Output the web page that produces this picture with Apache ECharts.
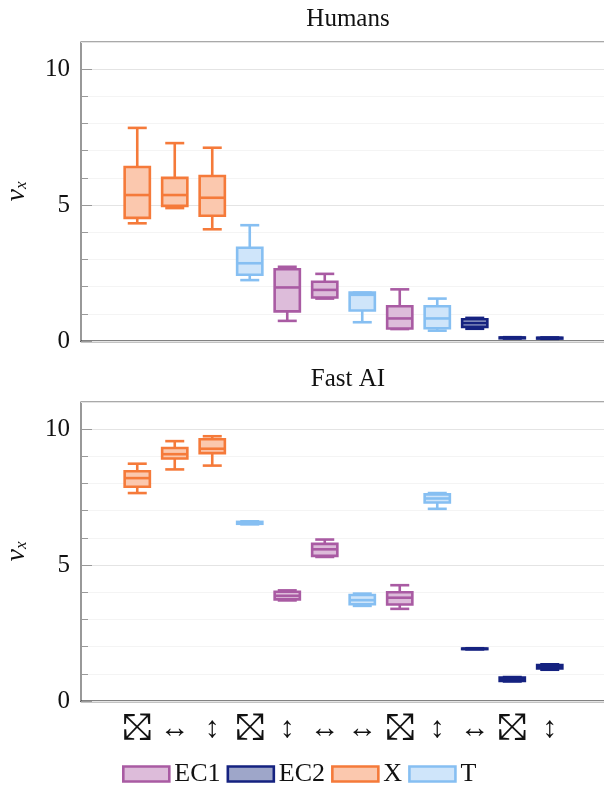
<!DOCTYPE html>
<html>
<head>
<meta charset="utf-8">
<script src="https://cdn.jsdelivr.net/npm/echarts@6/dist/echarts.min.js"></script>
<style>
  html, body { margin: 0; padding: 0; background: #fff; }
  #chart { width: 604px; height: 785px; }
</style>
</head>
<body>
<div id="chart"></div>
<script>
// one entry per box, left to right; 'd' = diagonal, 'h' = horizontal, 'v' = vertical
const moves = ['d', 'h', 'v', 'd', 'v', 'h', 'h', 'd', 'v', 'h', 'd', 'v'];
const groups = ['X', 'X', 'X', 'T', 'EC1', 'EC1', 'T', 'EC1', 'T', 'EC2', 'EC2', 'EC2'];
const groupNames = ['EC1', 'EC2', 'X', 'T'];

// [min, q1, median, q3, max]
const humans = [
  [4.33, 4.53, 5.37, 6.40, 7.84],
  [4.89, 4.97, 5.37, 6.00, 7.28],
  [4.11, 4.61, 5.27, 6.07, 7.11],
  [2.24, 2.44, 2.86, 3.43, 4.26],
  [0.74, 1.09, 1.97, 2.64, 2.73],
  [1.56, 1.60, 1.88, 2.18, 2.47],
  [0.69, 1.12, 1.70, 1.78, 1.78],
  [0.44, 0.46, 0.83, 1.28, 1.90],
  [0.38, 0.47, 0.83, 1.28, 1.56],
  [0.45, 0.52, 0.66, 0.80, 0.85],
  [0.09, 0.10, 0.12, 0.13, 0.14],
  [0.08, 0.09, 0.11, 0.12, 0.13]
];
const fastAI = [
  [7.65, 7.88, 8.20, 8.45, 8.73],
  [8.52, 8.92, 9.08, 9.31, 9.56],
  [8.66, 9.12, 9.28, 9.63, 9.74],
  [6.50, 6.52, 6.55, 6.59, 6.61],
  [3.70, 3.74, 3.87, 4.02, 4.07],
  [5.30, 5.34, 5.58, 5.78, 5.94],
  [3.50, 3.56, 3.71, 3.90, 3.95],
  [3.39, 3.55, 3.80, 4.00, 4.26],
  [7.07, 7.30, 7.45, 7.60, 7.65],
  [1.90, 1.91, 1.92, 1.93, 1.94],
  [0.72, 0.74, 0.80, 0.86, 0.88],
  [1.15, 1.20, 1.26, 1.32, 1.35]
];

const yTicks = { min: 0, max: 11, major: 5, minor: 1 };

const strokes = { EC1: '#a95ba3', EC2: '#152280', X: '#f57a3a', T: '#86bff2' };
const fills = { EC1: '#ddbcda', EC2: '#9ea6c9', X: '#fbc8ae', T: '#cfe5fa' };

// blank slot at each end of the axis
const cats = [''].concat(moves.map((m, i) => 'c' + i), ['']);
const glyphA = { d: '{d|⤡}', h: '{a|↔}', v: '{a|↕}' };
const glyphB = { d: '{d|⤢}', h: '', v: '' };

const serif = '"Liberation Serif", "DejaVu Serif", serif';
const LW = 2.6;

function renderBox(params, api) {
  const grp = params.seriesName;
  const x = api.value(0);
  const p = [1, 2, 3, 4, 5].map(k => api.coord([x, api.value(k)]));
  const cx = p[0][0];
  const half = 12.6, cap = 9.5;
  const line = (x1, y1, x2, y2) => ({
    type: 'line',
    shape: { x1: x1, y1: y1, x2: x2, y2: y2 },
    style: { stroke: strokes[grp], lineWidth: LW }
  });
  return {
    type: 'group',
    children: [
      line(cx, p[3][1], cx, p[4][1]),
      line(cx, p[1][1], cx, p[0][1]),
      line(cx - cap, p[4][1], cx + cap, p[4][1]),
      line(cx - cap, p[0][1], cx + cap, p[0][1]),
      {
        type: 'rect',
        shape: { x: cx - half, y: p[3][1], width: half * 2, height: p[1][1] - p[3][1] },
        style: { fill: fills[grp], stroke: strokes[grp], lineWidth: LW }
      },
      line(cx - half, p[2][1], cx + half, p[2][1])
    ]
  };
}

const grids = [
  { left: 81, width: 525, top: 42, height: 299 },
  { left: 81, width: 525, top: 402, height: 299 }
].map(g => Object.assign(g, {
  show: true, borderColor: '#555', borderWidth: 1.2, backgroundColor: '#fff',
  containLabel: false, outerBoundsMode: 'none'
}));

const xLabel = glyphs => ({
  show: true, interval: 0, margin: 10, color: '#111',
  formatter: (v, i) => (i > 0 && i <= moves.length) ? glyphs[moves[i - 1]] : '',
  rich: {
    d: { fontFamily: '"DejaVu Sans"', fontSize: 37, lineHeight: 36, color: '#111' },
    a: { fontFamily: serif, fontSize: 30, lineHeight: 36, color: '#111' }
  }
});

const xAxis = [];
const yAxis = [];
const series = [];
[humans, fastAI].forEach((data, gi) => {
  xAxis.push({
    type: 'category', gridIndex: gi, data: cats, boundaryGap: true, position: 'bottom',
    axisLine: { show: true, lineStyle: { color: '#111', width: 1.3 } },
    axisTick: { show: false },
    axisLabel: gi === 1 ? xLabel(glyphA) : { show: false }
  });
  if (gi === 1) {
    xAxis.push({
      type: 'category', gridIndex: gi, data: cats, boundaryGap: true, position: 'bottom', offset: 0,
      axisLine: { show: false }, axisTick: { show: false },
      axisLabel: xLabel(glyphB)
    });
  }
  const base = { type: 'value', gridIndex: gi, min: yTicks.min, max: yTicks.max, axisLine: { show: false } };
  const yi = yAxis.length;
  yAxis.push(Object.assign({}, base, {
    position: 'left', interval: yTicks.major, z: 3,
    axisTick: { show: true, inside: true, length: 11, lineStyle: { color: '#999', width: 1 } },
    axisLabel: { show: true, color: '#111', fontFamily: serif, fontSize: 25, margin: 11, showMaxLabel: false },
    splitLine: { show: true, lineStyle: { color: '#e4e4e4', width: 1 } },
    name: '{n|ν}{s|x}', nameLocation: 'middle', nameRotate: 90, nameGap: 50,
    nameTextStyle: {
      rich: {
        n: { fontFamily: serif, fontStyle: 'italic', fontSize: 28, color: '#111' },
        s: { fontFamily: serif, fontStyle: 'italic', fontSize: 17, color: '#111', padding: [10, 0, 0, 0] }
      }
    }
  }));
  yAxis.push(Object.assign({}, base, {
    position: 'left', interval: yTicks.minor, z: 2,
    axisTick: { show: true, inside: true, length: 7, lineStyle: { color: '#999', width: 1 } },
    axisLabel: { show: false },
    splitLine: { show: true, lineStyle: { color: '#f4f4f4', width: 1 } }
  }));
  yAxis.push(Object.assign({}, base, {
    position: 'right', interval: yTicks.major,
    axisTick: { show: true, inside: true, length: 11, lineStyle: { color: '#999', width: 1 } },
    axisLabel: { show: false }, splitLine: { show: false }
  }));
  yAxis.push(Object.assign({}, base, {
    position: 'right', interval: yTicks.minor,
    axisTick: { show: true, inside: true, length: 7, lineStyle: { color: '#999', width: 1 } },
    axisLabel: { show: false }, splitLine: { show: false }
  }));

  groupNames.forEach(name => {
    const rows = [];
    data.forEach((d, i) => { if (groups[i] === name) rows.push([i + 1].concat(d)); });
    series.push({
      type: 'custom', name: name,
      xAxisIndex: gi === 0 ? 0 : 1, yAxisIndex: yi,
      renderItem: renderBox,
      itemStyle: { color: fills[name], borderColor: strokes[name], borderWidth: LW },
      encode: { x: 0, y: [1, 2, 3, 4, 5] },
      data: rows, z: 5
    });
  });
});

const chart = echarts.init(document.getElementById('chart'), null, { renderer: 'canvas' });
chart.setOption({
  backgroundColor: '#fff',
  animation: false,
  title: [
    { text: 'Humans', left: 343, top: 2, textAlign: 'center',
      textStyle: { fontFamily: serif, fontWeight: 'normal', fontSize: 25, color: '#111' } },
    { text: 'Fast AI', left: 343, top: 362, textAlign: 'center',
      textStyle: { fontFamily: serif, fontWeight: 'normal', fontSize: 25, color: '#111' } }
  ],
  legend: {
    left: 117, top: 756, itemWidth: 46, itemHeight: 15, itemGap: 6,
    icon: 'rect', selectedMode: false,
    textStyle: { fontFamily: serif, fontSize: 26, color: '#111' },
    data: groupNames.map(n => ({
      name: n, icon: 'rect',
      itemStyle: { color: fills[n], borderColor: strokes[n], borderWidth: 2.6 }
    }))
  },
  grid: grids,
  xAxis: xAxis,
  yAxis: yAxis,
  series: series
});
</script>
</body>
</html>
